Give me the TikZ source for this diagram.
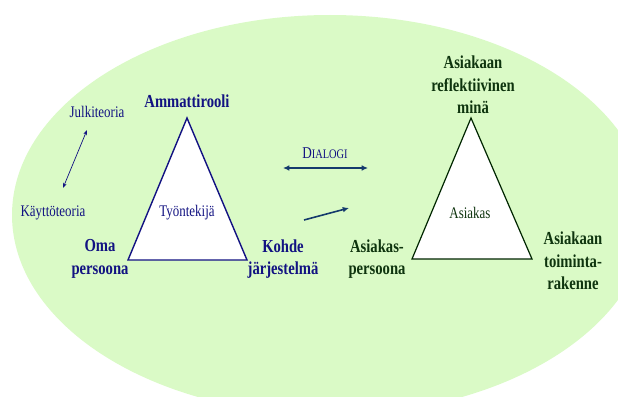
\documentclass[tikz,border=0pt]{standalone}
\usepackage{fontspec}
\setmainfont{Liberation Serif}[FakeStretch=0.8]
\usepackage{tikz}
\usetikzlibrary{positioning,arrows.meta}

\definecolor{bgGreen}{RGB}{218,250,198}
\definecolor{navyText}{RGB}{18,18,130}
\definecolor{darkGreen}{RGB}{14,52,14}
\definecolor{arrowBlue}{RGB}{20,58,108}

\begin{document}
\begin{tikzpicture}[
  x=1pt, y=-1pt,
  bold/.style={font=\bfseries\fontsize{18.3}{22.5}\selectfont, align=center, inner sep=0pt},
  plain/.style={font=\fontsize{16.2}{18}\selectfont, align=center, inner sep=0pt},
  leftlbl/.style={bold, text=navyText},
  rightlbl/.style={bold, text=darkGreen},
  tri/.style={fill=white, line join=miter},
  arr/.style={{Latex[length=2.2mm,width=2mm]}-{Latex[length=2.2mm,width=2mm]}, line width=1.6pt, draw=arrowBlue},
  onearr/.style={-{Latex[length=2.2mm,width=2mm]}, line width=1.6pt, draw=arrowBlue},
  thinarr/.style={{Stealth[length=1.8mm,width=1.3mm]}-{Stealth[length=1.8mm,width=1.3mm]}, line width=0.7pt, draw=navyText}
]
  \useasboundingbox (0,0) rectangle (618,396);
  \clip (0,0) rectangle (618,396);
  \fill[bgGreen] (330,215) ellipse [x radius=318, y radius=200];

  % worker triangle
  \coordinate (wtop) at (187,118);
  \coordinate (wleft) at (128,260);
  \coordinate (wright) at (247,260);
  \draw[tri, draw=navyText, line width=1.4pt] (wtop) -- (wleft) -- (wright) -- cycle;
  \node[plain, text=navyText] (tyontekija) at (187,213) {Työntekijä};
  \node[leftlbl] (ammatti) at (187,101) {Ammattirooli};
  \node[leftlbl] (oma) at (100,259) {Oma\\persoona};
  \node[leftlbl] (kohde) at (283,259) {Kohde\\järjestelmä};

  % theories
  \node[plain, text=navyText] (julki) at (97,112) {Julkiteoria};
  \node[plain, text=navyText] (kaytto) at (53,213) {Käyttöteoria};
  \coordinate (julkiend) at (87,130);
  \coordinate (kayttoend) at (63,188);
  \draw[thinarr] (julkiend) -- (kayttoend);

  % client triangle
  \coordinate (ctop) at (471,118);
  \coordinate (cleft) at (412,259);
  \coordinate (cright) at (532,259);
  \draw[tri, draw=black!85!green, line width=1.2pt] (ctop) -- (cleft) -- (cright) -- cycle;
  \node[plain, text=darkGreen] (asiakas) at (470,213) {Asiakas};
  \node[rightlbl] (reflektiivinen) at (473,85) {Asiakaan\\reflektiivinen\\minä};
  \node[rightlbl] (apersoona) at (377,259) {Asiakas-\\persoona};
  \node[rightlbl] (toiminta) at (573,261) {Asiakaan\\toiminta-\\rakenne};

  % dialogue between them
  \node[inner sep=0pt, text=navyText] (dialogi) at (325,153)
    {{\fontsize{16.5}{16}\selectfont D}{\fontsize{13}{12}\selectfont IALOGI}};
  \coordinate (dleft) at (283,168);
  \coordinate (dright) at (368,168);
  \draw[arr] (dleft) -- (dright);
  \coordinate (pstart) at (304,220);
  \coordinate (pend) at (349,208);
  \draw[onearr] (pstart) -- (pend);
\end{tikzpicture}
\end{document}
